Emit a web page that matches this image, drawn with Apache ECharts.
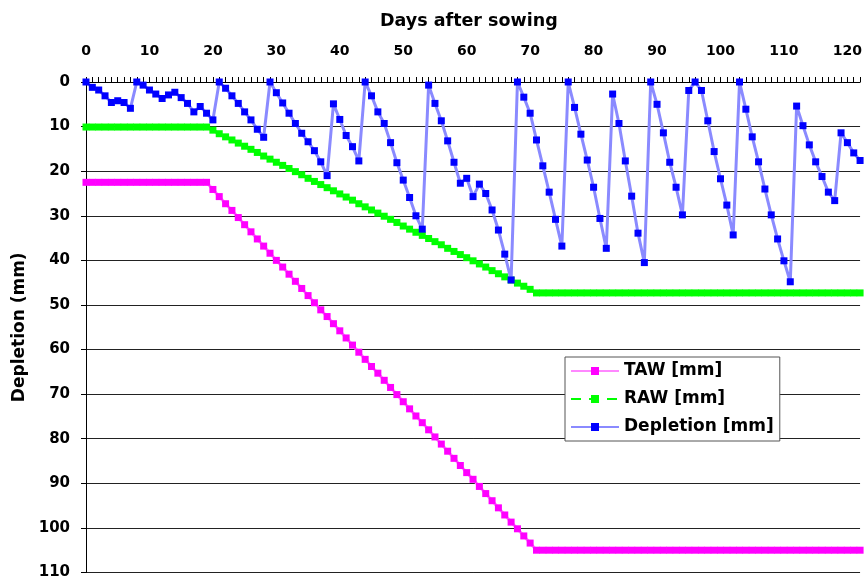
<!DOCTYPE html>
<html>
<head>
<meta charset="utf-8">
<script src="https://cdn.jsdelivr.net/npm/echarts@6/dist/echarts.min.js"></script>
<style>
html,body{margin:0;padding:0;background:#fff;}
#c{width:865px;height:580px;}
</style>
</head>
<body>
<div id="c"></div>
<script>
// Days after sowing: index of each value = day (0..122)
var xTicks = [0,10,20,30,40,50,60,70,80,90,100,110,120];
var yTicks = [0,10,20,30,40,50,60,70,80,90,100,110];

var taw = [
22.5,22.5,22.5,22.5,22.5,22.5,22.5,22.5,22.5,22.5,
22.5,22.5,22.5,22.5,22.5,22.5,22.5,22.5,22.5,22.5,
24.1,25.7,27.3,28.8,30.4,32.0,33.6,35.2,36.8,38.4,
40.0,41.5,43.1,44.7,46.3,47.9,49.5,51.1,52.6,54.2,
55.8,57.4,59.0,60.6,62.2,63.8,65.3,66.9,68.5,70.1,
71.7,73.3,74.9,76.4,78.0,79.6,81.2,82.8,84.4,86.0,
87.6,89.1,90.7,92.3,93.9,95.5,97.1,98.7,100.2,101.8,
103.4,105.0,105,105,105,105,105,105,105,105,
105,105,105,105,105,105,105,105,105,105,
105,105,105,105,105,105,105,105,105,105,
105,105,105,105,105,105,105,105,105,105,
105,105,105,105,105,105,105,105,105,105,
105,105,105
];

var raw = [
10.1,10.1,10.1,10.1,10.1,10.1,10.1,10.1,10.1,10.1,
10.1,10.1,10.1,10.1,10.1,10.1,10.1,10.1,10.1,10.1,
10.8,11.6,12.3,13.0,13.7,14.4,15.1,15.8,16.6,17.3,
18.0,18.7,19.4,20.1,20.8,21.6,22.3,23.0,23.7,24.4,
25.1,25.8,26.5,27.3,28.0,28.7,29.4,30.1,30.8,31.5,
32.3,33.0,33.7,34.4,35.1,35.8,36.5,37.3,38.0,38.7,
39.4,40.1,40.8,41.5,42.3,43.0,43.7,44.4,45.1,45.8,
46.5,47.3,47.3,47.3,47.3,47.3,47.3,47.3,47.3,47.3,
47.3,47.3,47.3,47.3,47.3,47.3,47.3,47.3,47.3,47.3,
47.3,47.3,47.3,47.3,47.3,47.3,47.3,47.3,47.3,47.3,
47.3,47.3,47.3,47.3,47.3,47.3,47.3,47.3,47.3,47.3,
47.3,47.3,47.3,47.3,47.3,47.3,47.3,47.3,47.3,47.3,
47.3,47.3,47.3
];

var depletion = [
0,1.2,1.8,3.1,4.6,4.2,4.6,5.9,0,0.7,
1.8,2.7,3.7,2.9,2.3,3.5,4.8,6.7,5.5,7.0,
8.5,0,1.4,3.1,4.8,6.7,8.5,10.6,12.4,0,
2.4,4.7,7.0,9.3,11.5,13.4,15.4,17.9,21.0,4.9,
8.4,12.0,14.5,17.7,0,3.1,6.7,9.3,13.6,18.1,
22.0,25.9,30.0,33.0,0.7,4.8,8.7,13.2,18.0,22.7,
21.6,25.7,22.9,25.0,28.7,33.2,38.6,44.4,0,3.4,
7.0,13.0,18.8,24.7,30.8,36.8,0,5.7,11.7,17.5,
23.6,30.6,37.3,2.7,9.3,17.7,25.6,33.9,40.5,0,
5.0,11.4,18.0,23.6,29.8,1.9,0,1.9,8.7,15.6,
21.7,27.6,34.3,0,6.1,12.3,17.9,24.0,29.8,35.2,
40.1,44.8,5.4,9.8,14.1,17.9,21.2,24.7,26.6,11.4,
13.6,15.9,17.6
];

function pairs(arr){ return arr.map(function(v,i){ return [i, v]; }); }

var FONT = '"DejaVu Sans", sans-serif';
var chart = echarts.init(document.getElementById('c'), null, {renderer:'canvas'});
chart.setOption({
  animation: false,
  backgroundColor: '#fff',
  title: {
    text: 'Days after sowing',
    left: 375, top: 7,
    textStyle: {fontFamily: FONT, fontWeight: 'bold', fontSize: 17.5, color: '#000'}
  },
  grid: {left: 86, right: 0, top: 82, bottom: 7, containLabel: false},
  xAxis: [{
    type: 'value', position: 'top', min: 0, max: 122, interval: 10,
    axisLine: {show: true, onZero: false, lineStyle: {color: '#000', width: 1}},
    axisTick: {show: false},
    splitLine: {show: false},
    axisLabel: {
      margin: 24, color: '#000', fontFamily: FONT, fontWeight: 'bold', fontSize: 14,
      showMaxLabel: false,
      formatter: function(v){ return xTicks.indexOf(v) >= 0 ? String(v) : ''; }
    }
  }, {
    type: 'value', position: 'top', min: 0, max: 122, interval: 1, offset: 0,
    axisLine: {show: false},
    axisTick: {show: true, inside: false, length: 5, lineStyle: {color: '#000', width: 1}},
    splitLine: {show: false},
    axisLabel: {show: false}
  }],
  yAxis: {
    type: 'value', inverse: true, min: 0, max: 110, interval: 10,
    name: 'Depletion (mm)', nameLocation: 'middle', nameGap: 54, nameRotate: 90,
    nameTextStyle: {fontFamily: FONT, fontWeight: 'bold', fontSize: 17, color: '#000'},
    axisLine: {show: true, onZero: false, lineStyle: {color: '#000', width: 1}},
    axisTick: {show: true, inside: false, length: 5, lineStyle: {color: '#000'}},
    splitLine: {show: true, lineStyle: {color: '#222', width: 1}},
    axisLabel: {
      margin: 16, color: '#000', fontFamily: FONT, fontWeight: 'bold', fontSize: 15,
      formatter: function(v){ return yTicks.indexOf(v) >= 0 ? String(v) : ''; }
    }
  },
  legend: {
    orient: 'vertical', left: 565, top: 357,
    backgroundColor: '#fff', borderColor: '#555', borderWidth: 1,
    padding: [5, 6, 5, 5], itemGap: 10, itemWidth: 48, itemHeight: 10,
    textStyle: {fontFamily: FONT, fontWeight: 'bold', fontSize: 17, color: '#000', lineHeight: 18},
    data: ['TAW [mm]', 'RAW [mm]', 'Depletion [mm]']
  },
  series: [
    {
      name: 'TAW [mm]', type: 'line', data: pairs(taw),
      symbol: 'rect', symbolSize: 7, showSymbol: true,
      itemStyle: {color: '#FF00FF'},
      lineStyle: {color: '#FF88FF', width: 3},
      z: 2
    },
    {
      name: 'RAW [mm]', type: 'line', data: pairs(raw),
      symbol: 'rect', symbolSize: 7, showSymbol: true,
      itemStyle: {color: '#00FF00'},
      lineStyle: {color: '#00FF00', width: 3, type: [10, 8]},
      z: 3
    },
    {
      name: 'Depletion [mm]', type: 'line', data: pairs(depletion),
      symbol: 'rect', symbolSize: 7, showSymbol: true,
      itemStyle: {color: '#0000FF'},
      lineStyle: {color: '#8A8AFF', width: 3},
      z: 4
    }
  ]
});
</script>
</body>
</html>
